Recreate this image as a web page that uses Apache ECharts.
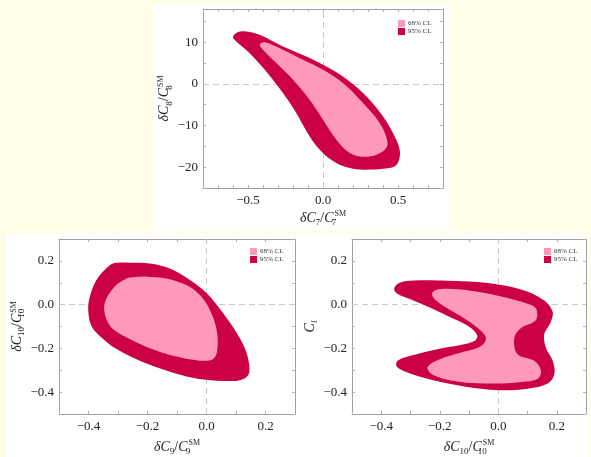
<!DOCTYPE html>
<html>
<head>
<meta charset="utf-8">
<script src="https://cdn.jsdelivr.net/npm/echarts@6/dist/echarts.min.js"></script>
<style>
html, body { margin: 0; padding: 0; background: #fffde8; }
#main { width: 591px; height: 457px; }
</style>
</head>
<body>
<div id="main"></div>
<script>
// contour outlines, [x, y] in data units
var c7c8Outer = [[-0.600, 11.3], [-0.567, 12.5], [-0.511, 12.6], [-0.422, 11.8], [-0.267, 9.0], [-0.111, 6.6], [0.0, 4.6], [0.133, 1.8], [0.267, -2.2], [0.400, -7.8], [0.478, -12.6], [0.511, -15.8], [0.507, -18.2], [0.478, -19.8], [0.400, -20.4], [0.267, -20.6], [0.178, -20.2], [0.089, -19.0], [0.0, -16.6], [-0.089, -12.6], [-0.178, -7.0], [-0.267, -2.2], [-0.378, 3.0], [-0.489, 7.4], [-0.578, 10.2]];
var c7c8Inner = [[-0.422, 9.4], [-0.389, 10.0], [-0.267, 8.2], [-0.133, 5.8], [0.0, 3.4], [0.133, 0.2], [0.267, -4.6], [0.378, -9.4], [0.427, -13.4], [0.422, -15.4], [0.356, -17.0], [0.267, -17.5], [0.178, -16.6], [0.089, -13.4], [0.0, -8.6], [-0.089, -3.8], [-0.200, 1.0], [-0.311, 5.0], [-0.400, 8.2]];

var c9c10Outer = [[-0.305, 0.191], [-0.328, 0.180], [-0.373, 0.113], [-0.395, 0.038], [-0.401, -0.023], [-0.390, -0.098], [-0.362, -0.143], [-0.305, -0.203], [-0.226, -0.256], [-0.136, -0.301], [-0.068, -0.328], [0.0, -0.343], [0.068, -0.349], [0.113, -0.346], [0.141, -0.323], [0.145, -0.278], [0.131, -0.203], [0.102, -0.128], [0.056, -0.038], [0.0, 0.053], [-0.056, 0.113], [-0.124, 0.165], [-0.192, 0.188], [-0.260, 0.192]];
var c9c10Inner = [[-0.271, 0.120], [-0.311, 0.083], [-0.345, 0.008], [-0.341, -0.060], [-0.316, -0.113], [-0.249, -0.165], [-0.169, -0.211], [-0.090, -0.241], [-0.023, -0.256], [0.023, -0.248], [0.037, -0.203], [0.034, -0.113], [0.011, -0.023], [-0.023, 0.045], [-0.068, 0.090], [-0.136, 0.120], [-0.203, 0.128], [-0.249, 0.125]];

var c10clOuter = [[-0.356, 0.072], [-0.339, 0.099], [-0.287, 0.110], [-0.173, 0.109], [-0.036, 0.099], [0.078, 0.069], [0.157, 0.019], [0.186, -0.033], [0.180, -0.078], [0.157, -0.137], [0.163, -0.197], [0.186, -0.257], [0.192, -0.316], [0.169, -0.361], [0.100, -0.384], [0.009, -0.391], [-0.082, -0.381], [-0.196, -0.354], [-0.299, -0.316], [-0.347, -0.284], [-0.344, -0.257], [-0.299, -0.234], [-0.208, -0.204], [-0.130, -0.185], [-0.080, -0.165], [-0.072, -0.140], [-0.100, -0.100], [-0.160, -0.060], [-0.230, -0.015], [-0.300, 0.025], [-0.345, 0.050]];
var c10clInner = [[-0.225, 0.057], [-0.196, 0.072], [-0.094, 0.064], [0.021, 0.034], [0.100, 0.004], [0.129, -0.018], [0.129, -0.070], [0.078, -0.107], [0.055, -0.152], [0.066, -0.227], [0.123, -0.257], [0.146, -0.301], [0.135, -0.339], [0.078, -0.354], [-0.014, -0.361], [-0.128, -0.354], [-0.219, -0.324], [-0.242, -0.287], [-0.200, -0.250], [-0.130, -0.220], [-0.060, -0.190], [-0.042, -0.152], [-0.070, -0.107], [-0.116, -0.063], [-0.173, -0.018], [-0.219, 0.027]];

var legendNames = ['68% CL', '95% CL'];
var pink = '#ff99bb', crimson = '#cc0044';
var serif = '"Liberation Serif", "DejaVu Serif", serif';

function minus(v, digits) {
    return (v < 0 ? '\u2212' : '') + Math.abs(v).toFixed(digits);
}
// bottom panels: labels every 0.2
function fmtSmall(v) {
    var r = Math.round(v * 10);
    if (r % 2 !== 0) return '';
    return minus(r / 10, 1);
}
function fmtC7(v) {
    var r = Math.round(v * 10);
    if (r % 5 !== 0) return '';
    return minus(r / 10, 1);
}
function fmtC8(v) {
    var r = Math.round(v);
    if (r % 10 !== 0) return '';
    return minus(r, 0);
}

// z = subscript with no width, so the following SM sits right above it
var nameRich = {
    a: { fontFamily: serif, fontStyle: 'italic', fontSize: 14, lineHeight: 22, color: '#222' },
    b: { fontFamily: serif, fontSize: 14, lineHeight: 22, color: '#222' },
    s: { fontFamily: serif, fontSize: 9, verticalAlign: 'bottom', padding: [0, 0, 2, 0], color: '#222' },
    z: { fontFamily: serif, fontSize: 9, verticalAlign: 'bottom', padding: [0, 0, 2, 0], width: 1, color: '#222' },
    si: { fontFamily: serif, fontStyle: 'italic', fontSize: 9, verticalAlign: 'bottom', padding: [0, 0, 2, 0], color: '#222' },
    p: { fontFamily: serif, fontSize: 8, verticalAlign: 'top', padding: [3, 0, 0, 0], color: '#222' }
};

var frameLine = { onZero: false, lineStyle: { color: '#a0a0a0' } };
var frameTick = { inside: true, length: 3, lineStyle: { color: '#b0b0b0' } };

function mainX(grid, min, max, interval, fmt, name, gap) {
    return {
        gridIndex: grid, type: 'value', position: 'bottom', min: min, max: max, interval: interval,
        name: name, nameLocation: 'middle', nameGap: gap,
        nameTextStyle: { rich: nameRich },
        axisLine: frameLine, axisTick: frameTick,
        axisLabel: { formatter: fmt, fontFamily: serif, fontSize: 13, color: '#222', margin: 6, showMaxLabel: false },
        splitLine: { show: false }
    };
}
function mirrorX(grid, min, max, interval) {
    return {
        gridIndex: grid, type: 'value', position: 'top', min: min, max: max, interval: interval,
        axisLine: frameLine, axisTick: frameTick,
        axisLabel: { show: false }, splitLine: { show: false }
    };
}
function mainY(grid, min, max, interval, fmt, name, gap) {
    return {
        gridIndex: grid, type: 'value', position: 'left', min: min, max: max, interval: interval,
        name: name, nameLocation: 'middle', nameGap: gap, nameRotate: 90,
        nameTextStyle: { rich: nameRich },
        axisLine: frameLine, axisTick: frameTick,
        axisLabel: { formatter: fmt, fontFamily: serif, fontSize: 13, color: '#222', margin: 5, showMaxLabel: false },
        splitLine: { show: false }
    };
}
function mirrorY(grid, min, max, interval) {
    return {
        gridIndex: grid, type: 'value', position: 'right', min: min, max: max, interval: interval,
        axisLine: frameLine, axisTick: frameTick,
        axisLabel: { show: false }, splitLine: { show: false }
    };
}

function region(name, pts, color, axisIdx) {
    return {
        name: name, type: 'custom', xAxisIndex: axisIdx, yAxisIndex: axisIdx, z: 3,
        itemStyle: { color: color },
        data: pts,
        renderItem: function (params, api) {
            if (params.dataIndex !== 0) return;
            var poly = pts.map(function (p) { return api.coord(p); });
            return { type: 'polygon', shape: { points: poly, smooth: 0.35 }, style: { fill: color } };
        },
        silent: true
    };
}
function zeroLines(axisIdx) {
    return {
        type: 'line', xAxisIndex: axisIdx, yAxisIndex: axisIdx, data: [], z: 1, silent: true,
        markLine: {
            silent: true, z: 1, symbol: 'none', label: { show: false },
            lineStyle: { color: '#c8c8c8', type: [6, 4], width: 1 },
            data: [{ xAxis: 0 }, { yAxis: 0 }]
        }
    };
}
function legendAt(left, top) {
    return {
        data: legendNames, left: left, top: top, orient: 'vertical', itemGap: 1,
        itemWidth: 7, itemHeight: 7, icon: 'rect', selectedMode: false, padding: 0,
        textStyle: { fontFamily: serif, fontSize: 7, color: '#333', padding: [0, 0, 0, -2] }
    };
}

var chart = echarts.init(document.getElementById('main'));
var option = {
    backgroundColor: '#fffde8',
    animation: false,
    graphic: [
        { type: 'rect', z: -10, shape: { x: 153, y: 4, width: 296, height: 227 }, style: { fill: '#ffffff' } },
        { type: 'rect', z: -10, shape: { x: 6, y: 234, width: 583, height: 223 }, style: { fill: '#ffffff' } }
    ],
    grid: [
        { left: 203, top: 9, width: 240, height: 179 },
        { left: 59, top: 239, width: 236, height: 177 },
        { left: 352, top: 239, width: 234, height: 177 }
    ],
    legend: [legendAt(398, 20), legendAt(250, 248), legendAt(544, 248)],
    xAxis: [
        mainX(0, -0.8, 0.8, 0.1, fmtC7, '{a|δC}{s|7}{b|/}{a|C}{z|7}{p|SM}', 19),
        mainX(1, -0.5, 0.3, 0.1, fmtSmall, '{a|δC}{s|9}{b|/}{a|C}{z|9}{p|SM}', 22),
        mainX(2, -0.5, 0.3, 0.1, fmtSmall, '{a|δC}{s|10}{b|/}{a|C}{z|10}{p|SM}', 22),
        mirrorX(0, -0.8, 0.8, 0.1),
        mirrorX(1, -0.5, 0.3, 0.1),
        mirrorX(2, -0.5, 0.3, 0.1)
    ],
    yAxis: [
        mainY(0, -25, 18, 5, fmtC8, '{a|δC}{s|8}{b|/}{a|C}{z|8}{p|SM}', 24),
        mainY(1, -0.5, 0.3, 0.1, fmtSmall, '{a|δC}{s|10}{b|/}{a|C}{z|10}{p|SM}', 26),
        mainY(2, -0.5, 0.3, 0.1, fmtSmall, '{a|C}{si|l}', 30),
        mirrorY(0, -25, 18, 5),
        mirrorY(1, -0.5, 0.3, 0.1),
        mirrorY(2, -0.5, 0.3, 0.1)
    ],
    series: [
        zeroLines(0), zeroLines(1), zeroLines(2),
        region('95% CL', c7c8Outer, crimson, 0),
        region('68% CL', c7c8Inner, pink, 0),
        region('95% CL', c9c10Outer, crimson, 1),
        region('68% CL', c9c10Inner, pink, 1),
        region('95% CL', c10clOuter, crimson, 2),
        region('68% CL', c10clInner, pink, 2)
    ]
};
chart.setOption(option);
</script>
</body>
</html>
